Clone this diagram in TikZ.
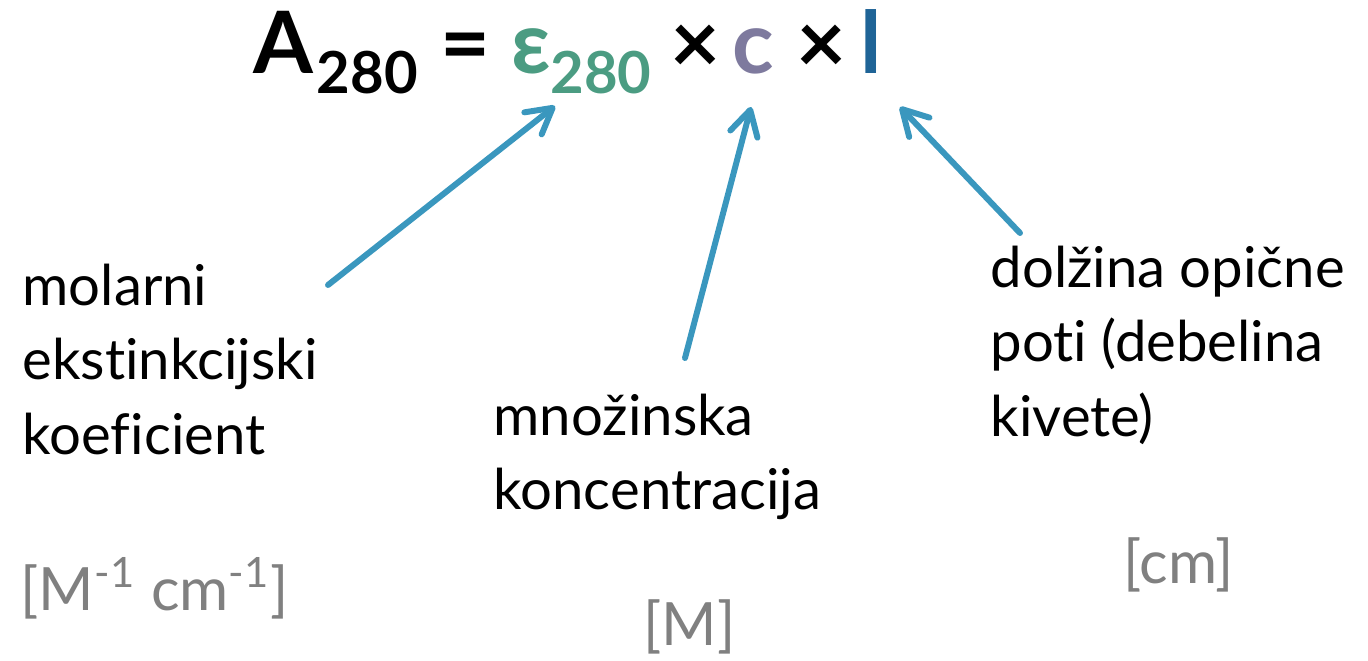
\documentclass[tikz,border=0pt]{standalone}
\usepackage{fontspec}
\setmainfont{Lato}[Ligatures={NoCommon}]
\usetikzlibrary{arrows.meta,calc}
\definecolor{arrowblue}{HTML}{3A97BE}
\definecolor{epsgreen}{HTML}{4B9C82}
\definecolor{cpurple}{HTML}{7E7A9E}
\definecolor{lblue}{HTML}{1F6497}
\definecolor{unitgray}{HTML}{808080}
\tikzset{
  formula/.style={inner sep=0pt, anchor=base west, font=\fontsize{24.5}{29}\selectfont\bfseries},
  subscr/.style={inner sep=0pt, anchor=base west, font=\fontsize{16.5}{19}\selectfont\bfseries},
  label/.style={inner sep=0pt, anchor=north west, align=left, font=\fontsize{16}{21.3}\selectfont},
  unit/.style={inner sep=0pt, anchor=base west, text=unitgray, font=\fontsize{17}{20}\selectfont},
  pointer/.style={draw=arrowblue, line width=1.7pt, line cap=round,
    -{Straight Barb[length=2.5mm, width=2.8mm, round]}}
}
\begin{document}
\begin{tikzpicture}
\useasboundingbox (0,0) rectangle (13.68,6.60);
% formula
\node[formula] (A) at (2.53,5.87) {A};
\node[subscr] (Asub) at ($(A.base east)+(0.02,-0.20)$) {280};
\node[formula] (eq) at (4.40,5.87) {=};
\node[formula, text=epsgreen] (eps) at (5.11,5.87) {ε};
\node[subscr, text=epsgreen] (epssub) at (5.50,5.67) {280};
\node[formula] (times1) at (6.70,5.87) {×};
\node[formula, text=cpurple] (c) at (7.32,5.87) {c};
\node[formula] (times2) at (7.96,5.87) {×};
\node[formula, text=lblue] (l) at (8.60,5.87) {l};
% labels
\node[label] (molar) at (0.22,3.97) {molarni\\ekstinkcijski\\koeficient};
\node[label] (conc) at (4.93,2.67) {množinska\\koncentracija};
\node[label] (path) at (9.90,4.15) {dolžina opične\\poti (debelina\\kivete)};
% units
\node[unit] (u1) at (0.20,0.50) {[M\textsuperscript{-1} cm\textsuperscript{-1}]};
\node[unit] (u2) at (6.43,0.15) {[M]};
\node[unit] (u3) at (11.23,0.77) {[cm]};
% arrow ends
\coordinate (t1) at (3.28,3.75);
\coordinate (h1) at (5.55,5.54);
\coordinate (t2) at (6.85,3.02);
\coordinate (h2) at (7.51,5.53);
\coordinate (t3) at (10.20,4.27);
\coordinate (h3) at (9.00,5.53);
\draw[pointer] (t1) -- (h1);
\draw[pointer] (t2) -- (h2);
\draw[pointer] (t3) -- (h3);
\end{tikzpicture}
\end{document}
